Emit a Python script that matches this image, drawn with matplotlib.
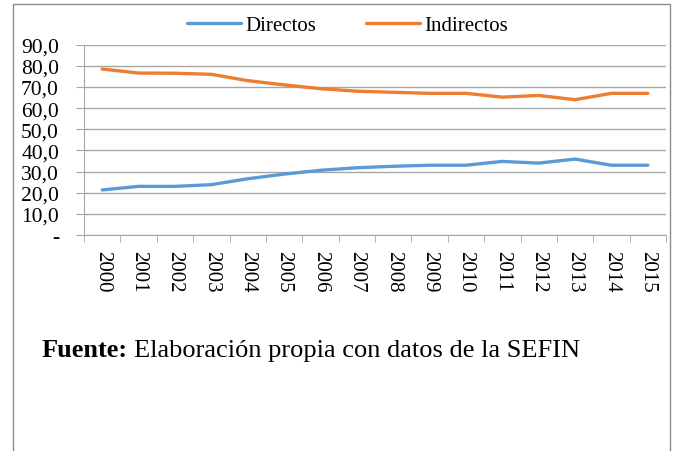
import matplotlib.pyplot as plt
from matplotlib.patches import Rectangle

years = ["2000", "2001", "2002", "2003", "2004", "2005", "2006", "2007",
         "2008", "2009", "2010", "2011", "2012", "2013", "2014", "2015"]
directos = [21.3, 23.0, 23.0, 23.8, 26.6, 28.8, 30.6, 31.8,
            32.5, 33.0, 33.0, 34.8, 34.0, 35.9, 33.0, 33.0]
indirectos = [78.5, 76.6, 76.5, 76.0, 73.0, 71.0, 69.2, 68.0,
              67.5, 67.0, 67.0, 65.2, 66.0, 64.0, 67.0, 67.0]
yticks = [0, 10, 20, 30, 40, 50, 60, 70, 80, 90]
ylabels = ["-", "10,0", "20,0", "30,0", "40,0", "50,0", "60,0", "70,0", "80,0", "90,0"]

plt.rcParams['font.family'] = ['Liberation Serif', 'DejaVu Serif']

W, H = 678, 452
fig = plt.figure(figsize=(W / 100, H / 100), dpi=100)
ax = fig.add_axes([84 / W, 1 - 236 / H, (666 - 84) / W, (236 - 45.7) / H])

# marco exterior del grafico
fig.patches.append(Rectangle((13 / W, -0.05), (670 - 13) / W, 1.05 - 5 / H,
                             transform=fig.transFigure, fill=False,
                             edgecolor='#8c8c8c', lw=1.0))

x = list(range(len(years)))
l1, = ax.plot(x, directos, color='#5B9BD5', lw=2.4, solid_capstyle='round', label='Directos')
l2, = ax.plot(x, indirectos, color='#ED7D31', lw=2.4, solid_capstyle='round', label='Indirectos')

ax.set_xlim(-0.5, len(years) - 0.5)
ax.set_ylim(0, 90)
ax.set_yticks(yticks)
ax.set_yticklabels(ylabels, fontsize=15.5)
ax.yaxis.grid(True, color='#a6a6a6', lw=1)
ax.set_axisbelow(True)

ax.set_xticks(x)
ax.set_xticklabels(years, rotation=270, fontsize=15, va='top', ha='center')
ax.set_xticks([i - 0.5 for i in range(len(years) + 1)], minor=True)
ax.tick_params(axis='x', which='major', length=0, pad=11)
ax.tick_params(axis='x', which='minor', length=5, color='#a6a6a6', direction='out')
ax.tick_params(axis='y', length=6, color='#a6a6a6', pad=12)

for s in ['top', 'right']:
    ax.spines[s].set_visible(False)
for s in ['left', 'bottom']:
    ax.spines[s].set_color('#a6a6a6')

fig.legend(handles=[l1, l2], loc='center left', bbox_to_anchor=(187 / W, 1 - 26 / H),
           ncol=2, frameon=False, fontsize=15, handlelength=2.6, borderpad=0,
           borderaxespad=0, handletextpad=0.2, columnspacing=2.4)

fig.text(42 / W, 1 - 357 / H, "Fuente:", fontsize=19, fontweight='bold', va='baseline')
fig.text(134 / W, 1 - 357 / H, "Elaboración propia con datos de la SEFIN", fontsize=19, va='baseline')

fig.savefig("out.png", dpi=100)
